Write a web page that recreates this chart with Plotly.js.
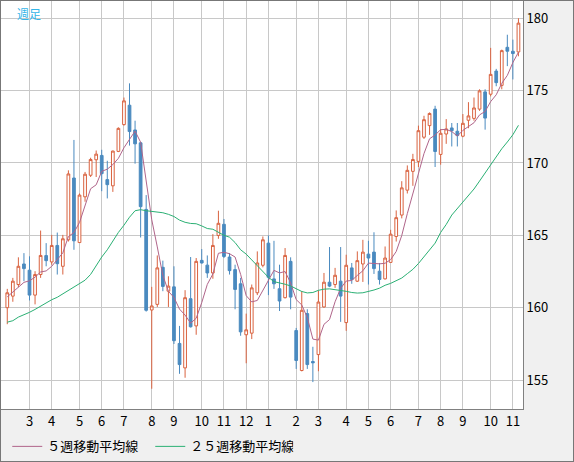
<!DOCTYPE html>
<html>
<head>
<meta charset="utf-8">
<script src="https://cdn.plot.ly/plotly-3.0.1.min.js"></script>
<style>
  html, body { margin: 0; padding: 0; background: #f0f0f0; }
  #wrap { position: relative; width: 574px; height: 462px; }
  #chart { width: 574px; height: 462px; }
  #frame { position: absolute; left: 0; top: 0; width: 574px; height: 462px; box-sizing: border-box; border: 1px solid #777; pointer-events: none; }
</style>
</head>
<body>
<div id="wrap"><div id="chart"></div><div id="frame"></div></div>
<script>
// Weekly OHLC (週足)
const opens = [160.0,160.8,161.6,163.02,162.59,160.87,162.29,163.6,163.16,164.3,162.86,164.69,168.96,164.5,167.66,169.15,170.22,170.52,168.85,168.42,170.8,172.65,173.99,172.28,171.39,166.79,159.84,160.23,162.79,161.14,161.44,157.53,155.84,160.62,158.74,163.27,162.94,162.4,164.99,165.76,163.5,162.63,161.65,158.13,158.24,161.03,162.93,164.46,161.99,161.31,160.69,163.2,158.42,155.66,159.59,156.28,156.76,160.05,161.76,161.6,161.83,158.97,162.75,161.83,163.02,163.7,163.84,162.52,161.99,163.13,164.92,166.4,168.12,169.42,170.11,171.78,172.58,173.72,170.59,172.0,172.42,172.19,171.85,172.95,173.08,173.72,174.91,174.75,176.35,175.36,177.99,177.72,177.67];
const highs = [161.3,162.06,163.48,163.77,163.55,162.52,165.33,164.46,165.03,165.19,165.03,169.49,171.59,167.89,169.38,170.36,170.86,170.91,170.15,170.85,172.46,174.52,175.5,172.92,171.43,167.78,161.44,163.61,163.25,162.17,162.86,158.74,161.21,163.5,163.43,164.05,163.61,165.08,166.7,166.13,163.77,162.97,162.06,159.59,161.6,163.89,164.92,164.99,164.62,162.97,164.12,163.48,158.6,161.15,159.89,157.3,161.19,162.4,164.19,162.75,164.19,163.66,163.09,163.89,164.69,164.62,165.21,163.09,164.23,165.38,166.72,168.74,169.83,170.63,172.58,173.26,173.49,173.95,172.35,173.03,172.76,172.76,173.38,174.2,174.52,175.09,175.09,177.95,176.5,177.83,178.86,178.52,180.0];
const lows = [158.86,160.41,161.42,161.83,160.5,160.23,162.06,162.86,162.97,162.29,162.29,164.57,164.0,164.5,167.32,169.03,169.03,168.05,167.55,168.0,170.75,172.58,171.2,169.95,164.85,159.73,154.4,160.05,161.14,160.05,157.49,155.43,155.16,158.63,158.13,163.05,162.06,162.0,164.76,163.43,162.29,159.89,158.06,156.16,157.83,160.87,162.79,160.87,161.3,159.77,160.64,159.89,155.77,155.6,155.77,154.86,155.61,160.0,161.42,161.37,159.02,158.4,161.65,161.78,161.78,161.6,162.33,161.6,161.95,163.09,164.57,166.17,167.89,168.42,169.72,171.66,171.94,169.72,169.88,171.32,171.14,171.14,171.78,172.4,172.92,173.6,172.3,174.6,175.3,175.09,176.69,175.77,177.37];
const closes = [161.03,161.83,162.86,162.7,160.87,162.29,163.61,163.25,164.3,163.04,164.76,169.24,164.62,167.78,169.22,170.24,170.61,169.26,168.5,170.82,172.39,174.29,172.17,171.32,166.98,159.82,160.12,162.75,161.47,161.49,157.72,156.07,160.69,158.68,163.2,163.09,162.4,164.3,165.83,163.54,162.56,161.26,158.33,158.47,161.37,163.09,164.69,162.1,161.65,160.46,163.61,160.73,156.35,159.82,156.07,156.19,160.39,161.76,161.49,162.24,160.8,162.93,161.95,163.25,163.84,163.43,162.7,161.95,163.43,165.08,166.22,168.28,169.49,170.24,172.23,172.99,173.42,170.79,172.05,172.35,172.23,171.89,172.74,173.25,173.8,174.98,173.1,176.12,175.55,177.76,177.72,177.56,179.66];

// ５週移動平均線 and ２５週移動平均線
const ma5 = [160.75,161.1,161.45,161.75,161.86,162.11,162.47,162.54,162.86,163.3,163.79,164.92,165.19,165.89,167.12,168.22,168.49,169.42,169.57,169.89,170.32,171.05,171.63,172.2,171.43,168.92,166.08,164.2,162.23,161.13,160.71,159.9,159.49,158.93,159.27,160.35,161.61,162.33,163.76,163.83,163.73,163.5,162.3,160.83,160.4,160.5,161.19,161.94,162.58,162.4,162.5,161.71,160.56,160.19,159.32,157.83,157.76,158.85,159.18,160.41,161.34,161.84,161.88,162.23,162.55,163.08,163.03,163.03,163.07,163.32,163.88,164.99,166.5,167.86,169.29,170.65,171.67,171.93,172.3,172.32,172.17,171.86,172.25,172.49,172.78,173.32,173.56,174.24,174.71,175.5,176.05,176.94,177.65];
const ma25 = [159.0,159.1,159.35,159.5,159.68,159.88,160.1,160.35,160.55,160.72,160.95,161.2,161.4,161.62,161.9,162.3,162.95,163.5,164.0,164.6,165.2,165.7,166.25,166.7,166.77,166.7,166.65,166.6,166.56,166.45,166.3,166.05,165.9,165.82,165.8,165.65,165.47,165.42,165.2,165.0,164.87,164.5,164.0,163.7,163.3,162.9,162.55,162.1,161.8,161.72,161.62,161.5,161.3,161.12,161.02,161.05,161.2,161.28,161.3,161.26,161.2,161.13,161.05,161.01,161.03,161.1,161.22,161.35,161.55,161.68,161.85,162.05,162.35,162.65,163.05,163.5,164.0,164.46,165.2,165.75,166.4,166.85,167.3,167.75,168.2,168.75,169.3,169.9,170.45,170.98,171.45,171.95,172.6];

// Month tick labels and the week at which each month begins
const monthLabels = ['3','4','5','6','7','8','9','10','11','12','1','2','3','4','5','6','7','8','9','10','11'];
const monthWeeks = [4,8,13,17,21,26,30,35,39,43,47,52,56,61,65,69,74,78,82,87,91];
const priceTicks = [155,160,165,170,175,180];

const weeks = closes.map((_, i) => i);
const FONT = '"Noto Sans CJK JP", "Noto Sans", sans-serif';
const UP = '#d9623f', DOWN = '#4a8abf';

const traces = [
  {
    type: 'candlestick', x: weeks, open: opens, high: highs, low: lows, close: closes,
    increasing: { line: { color: UP, width: 1 }, fillcolor: '#ffffff' },
    decreasing: { line: { color: DOWN, width: 1 }, fillcolor: DOWN },
    whiskerwidth: 0, showlegend: false, hoverinfo: 'skip'
  },
  {
    type: 'scatter', mode: 'lines', x: weeks, y: ma5, name: '５週移動平均線',
    line: { color: '#b0658a', width: 1 }, hoverinfo: 'skip'
  },
  {
    type: 'scatter', mode: 'lines', x: weeks, y: ma25, name: '２５週移動平均線',
    line: { color: '#2bb074', width: 1 }, hoverinfo: 'skip'
  }
];

const layout = {
  width: 574, height: 462,
  margin: { l: 1, r: 51, t: 1, b: 50 },
  paper_bgcolor: '#f0f0f0', plot_bgcolor: '#ffffff',
  font: { family: FONT, size: 13, color: '#000' },
  showlegend: true,
  xaxis: {
    range: [-1.13, 92.82], tickmode: 'array', tickvals: monthWeeks, ticktext: monthLabels,
    showgrid: true, gridcolor: '#c8c8c8', gridwidth: 1, zeroline: false,
    showline: true, linecolor: '#808080', linewidth: 1, ticks: '',
    tickfont: { family: FONT, size: 13, color: '#000' },
    rangeslider: { visible: false }, fixedrange: true
  },
  yaxis: {
    side: 'right', range: [153.0, 181.19], tickmode: 'array', tickvals: priceTicks,
    showgrid: true, gridcolor: '#c8c8c8', gridwidth: 1, zeroline: false,
    showline: true, linecolor: '#808080', linewidth: 1, ticks: '',
    tickfont: { family: FONT, size: 13, color: '#000' }, fixedrange: true
  },
  legend: {
    orientation: 'h', x: 0.012, xanchor: 'left', y: -0.055, yanchor: 'top',
    bgcolor: 'rgba(0,0,0,0)', font: { family: FONT, size: 13, color: '#000' },
    entrywidth: 98, entrywidthmode: 'pixels', itemwidth: 30
  },
  annotations: [{
    text: '週足', xref: 'paper', yref: 'paper', x: 0.026, y: 0.995,
    xanchor: 'left', yanchor: 'top', showarrow: false,
    font: { family: FONT, size: 12, color: '#33b5e8' }
  }]
};

Plotly.newPlot('chart', traces, layout, { displayModeBar: false, staticPlot: true });
</script>
</body>
</html>
